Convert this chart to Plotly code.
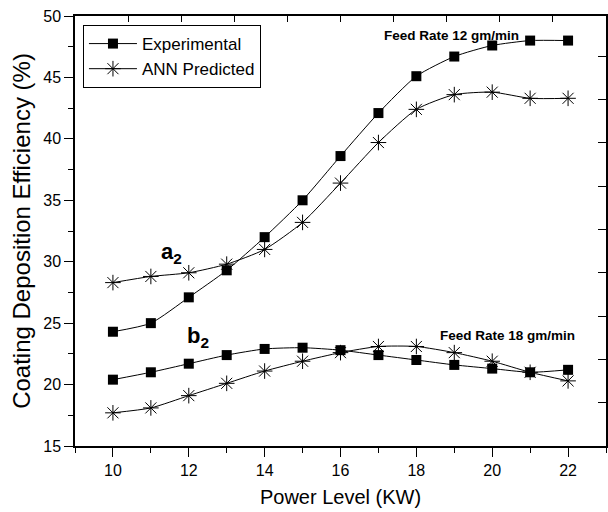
import plotly.graph_objects as go

power = [10, 11, 12, 13, 14, 15, 16, 17, 18, 19, 20, 21, 22]
exp_12 = [24.3, 25.0, 27.1, 29.3, 32.0, 35.0, 38.6, 42.1, 45.1, 46.7, 47.6, 48.0, 48.0]
ann_12 = [28.3, 28.8, 29.1, 29.8, 31.0, 33.2, 36.4, 39.7, 42.4, 43.6, 43.8, 43.3, 43.3]
exp_18 = [20.4, 21.0, 21.7, 22.4, 22.9, 23.0, 22.8, 22.4, 22.0, 21.6, 21.3, 21.0, 21.2]
ann_18 = [17.7, 18.1, 19.1, 20.1, 21.1, 21.9, 22.6, 23.1, 23.1, 22.6, 21.9, 21.0, 20.3]
x_ticks = [10, 12, 14, 16, 18, 20, 22]
y_ticks = [15, 20, 25, 30, 35, 40, 45, 50]

FONT = "Liberation Sans, Arial, sans-serif"

fig = go.Figure()

sq = dict(symbol="square", size=10, color="black")
st = dict(symbol="asterisk-open", size=13, color="black", line=dict(color="black", width=1))
ln = dict(color="black", width=1, shape="spline", smoothing=0.6)

fig.add_trace(go.Scatter(x=power, y=exp_12, mode="lines+markers", name="Experimental",
                         marker=sq, line=ln))
fig.add_trace(go.Scatter(x=power, y=ann_12, mode="lines+markers", name="ANN Predicted",
                         marker=st, line=ln))
fig.add_trace(go.Scatter(x=power, y=exp_18, mode="lines+markers", name="Experimental",
                         marker=sq, line=ln, showlegend=False))
fig.add_trace(go.Scatter(x=power, y=ann_18, mode="lines+markers", name="ANN Predicted",
                         marker=st, line=ln, showlegend=False))
# helper traces so the mirrored top/right tick axes are drawn
fig.add_trace(go.Scatter(x=[5], y=[30], xaxis="x2", yaxis="y", mode="markers",
                         marker=dict(opacity=0), showlegend=False, hoverinfo="skip"))
fig.add_trace(go.Scatter(x=[15], y=[5], xaxis="x", yaxis="y2", mode="markers",
                         marker=dict(opacity=0), showlegend=False, hoverinfo="skip"))

fig.update_layout(
    width=608, height=512,
    margin=dict(l=75, r=2, t=16, b=66),
    paper_bgcolor="white", plot_bgcolor="white",
    font=dict(family=FONT, color="black", size=16),
    showlegend=True,
    legend=dict(x=0.015, y=0.979, xanchor="left", yanchor="top",
                bordercolor="black", borderwidth=1, bgcolor="white",
                font=dict(size=17, family=FONT), itemwidth=48,
                tracegroupgap=0),
    xaxis=dict(range=[9, 23], tickvals=x_ticks, ticks="outside", ticklen=9, tickwidth=1.2,
               tickcolor="black", showline=True, linecolor="black", linewidth=1.5,
               mirror=True, showgrid=False, zeroline=False, automargin=False,
               tickfont=dict(size=16, family=FONT),
               minor=dict(tickvals=[9, 11, 13, 15, 17, 19, 21, 23], ticks="outside",
                          ticklen=5, tickcolor="black", tickwidth=1.2, showgrid=False),
               title=dict(text="Power Level (KW)", font=dict(size=20, family=FONT), standoff=12)),
    yaxis=dict(range=[15, 50], tickvals=y_ticks, ticks="outside", ticklen=9, tickwidth=1.2,
               tickcolor="black", showline=True, linecolor="black", linewidth=1.5,
               mirror=True, showgrid=False, zeroline=False, automargin=False,
               tickfont=dict(size=16, family=FONT),
               minor=dict(tickvals=[17.5, 22.5, 27.5, 32.5, 37.5, 42.5, 47.5], ticks="outside",
                          ticklen=5, tickcolor="black", tickwidth=1.2, showgrid=False),
               title=dict(text="Coating Deposition Efficiency (%)", font=dict(size=24, family=FONT),
                          standoff=6)),
    xaxis2=dict(overlaying="x", side="top", anchor="y", range=[0, 10],
                tickvals=[1, 2, 3, 4, 5, 6, 7, 8, 9], ticks="inside", ticklen=6, tickwidth=1.2,
                tickcolor="black", showticklabels=False, showline=False, showgrid=False,
                zeroline=False, automargin=False),
    yaxis2=dict(overlaying="y", side="right", anchor="x", range=[0, 9.93],
                tickvals=[1, 2, 3, 4, 5, 6, 7, 8, 9], ticks="inside", ticklen=8, tickwidth=1.2,
                tickcolor="black", showticklabels=False, showline=False, showgrid=False,
                zeroline=False, automargin=False),
)

fig.add_annotation(x=18.92, y=48.45, text="<b>Feed Rate 12 gm/min</b>", showarrow=False,
                   font=dict(size=13.5, family=FONT))
fig.add_annotation(x=20.4, y=24.0, text="<b>Feed Rate 18 gm/min</b>", showarrow=False,
                   font=dict(size=13.5, family=FONT))
fig.add_annotation(x=11.55, y=30.7, text="<b>a<sub>2</sub></b>", showarrow=False,
                   font=dict(size=22, family=FONT))
fig.add_annotation(x=12.25, y=23.9, text="<b>b<sub>2</sub></b>", showarrow=False,
                   font=dict(size=22, family=FONT))

fig.write_html("out.html", config={"displayModeBar": False},
               post_script="document.body.style.margin='0';document.body.style.overflow='hidden';")
